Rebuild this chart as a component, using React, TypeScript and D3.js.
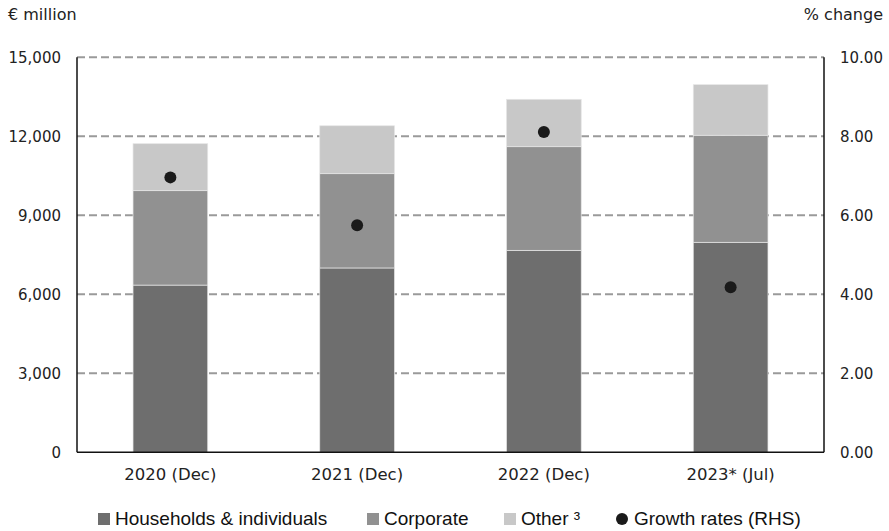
import React from "react";
import * as d3 from "d3";

const categories = ["2020 (Dec)", "2021 (Dec)", "2022 (Dec)", "2023* (Jul)"];
const households = [6350, 7000, 7670, 7975];
const corporate = [3585, 3580, 3935, 4065];
const other = [1785, 1820, 1800, 1920];
const growth = [6.96, 5.75, 8.11, 4.18];
const leftTicks = [0, 3000, 6000, 9000, 12000, 15000];
const rightTicks = [0, 2, 4, 6, 8, 10];
const seriesNames = ["Households & individuals", "Corporate", "Other \u00B3"];
const seriesColors = ["#6e6e6e", "#919191", "#c8c8c8"];

const W = 889, H = 531;
const m = { left: 77, right: 824, top: 57.3, bottom: 452.3 };
const font = "'DejaVu Sans', sans-serif";
const lfont = "'Liberation Sans', Arial, sans-serif";

export default function App() {
  const x = d3.scaleBand<string>().domain(categories).range([m.left, m.right]).paddingInner(0.6).paddingOuter(0.3);
  const y = d3.scaleLinear().domain([0, 15000]).range([m.bottom, m.top]);
  const y2 = d3.scaleLinear().domain([0, 10]).range([m.bottom, m.top]);
  const rows = categories.map((c, i) => ({ c, households: households[i], corporate: corporate[i], other: other[i] }));
  const stack = d3.stack<any>().keys(["households", "corporate", "other"])(rows);
  const fmtL = d3.format(",");
  const fmtR = d3.format(".2f");
  const legendX = [98, 367, 504];
  return (
    <svg width={W} height={H} style={{ position: "absolute", left: 0, top: 0, background: "#fff" }}>
      <text x={8} y={20} fontFamily={font} fontSize={16} fill="#222">€ million</text>
      <text x={883} y={20} textAnchor="end" fontFamily={font} fontSize={16} fill="#222">% change</text>
      {leftTicks.filter(t => t > 0).map(t => (
        <line key={t} x1={m.left} x2={m.right} y1={y(t)} y2={y(t)} stroke="#9a9a9a" strokeWidth={2} strokeDasharray="8,4" />
      ))}
      {stack.map((s, si) => (
        <g key={si}>
          {s.map((d, i) => (
            <rect key={i} x={x(categories[i])} width={x.bandwidth()} y={y(d[1])} height={y(d[0]) - y(d[1])}
              fill={seriesColors[si]} stroke="#e6e6e6" strokeWidth={0.7} />
          ))}
        </g>
      ))}
      {growth.map((g, i) => (
        <circle key={i} cx={(x(categories[i]) as number) + x.bandwidth() / 2} cy={y2(g)} r={6} fill="#1a1a1a" />
      ))}
      <line x1={m.left} x2={m.left} y1={m.top} y2={m.bottom} stroke="#111" strokeWidth={1.5} />
      <line x1={m.right} x2={m.right} y1={m.top} y2={m.bottom} stroke="#111" strokeWidth={1.5} />
      <line x1={m.left} x2={m.right} y1={m.bottom} y2={m.bottom} stroke="#111" strokeWidth={1.5} />
      {leftTicks.map(t => (
        <text key={t} x={61} y={y(t) + 5.5} textAnchor="end" fontFamily={font} fontSize={15} fill="#222">{fmtL(t)}</text>
      ))}
      {rightTicks.map(t => (
        <text key={t} x={840} y={y2(t) + 5.5} fontFamily={font} fontSize={15} fill="#222">{fmtR(t)}</text>
      ))}
      {categories.map(c => (
        <text key={c} x={(x(c) as number) + x.bandwidth() / 2} y={480} textAnchor="middle" fontFamily={font} fontSize={16.5} fill="#222">{c}</text>
      ))}
      {seriesNames.map((n, i) => (
        <g key={n}>
          <rect x={legendX[i]} y={513} width={12} height={12} fill={seriesColors[i]} />
          <text x={legendX[i] + 17} y={525} fontFamily={lfont} fontSize={19} fill="#111">{n}</text>
        </g>
      ))}
      <circle cx={622} cy={519} r={6} fill="#1a1a1a" />
      <text x={634} y={525} fontFamily={lfont} fontSize={19} fill="#111">Growth rates (RHS)</text>
    </svg>
  );
}
